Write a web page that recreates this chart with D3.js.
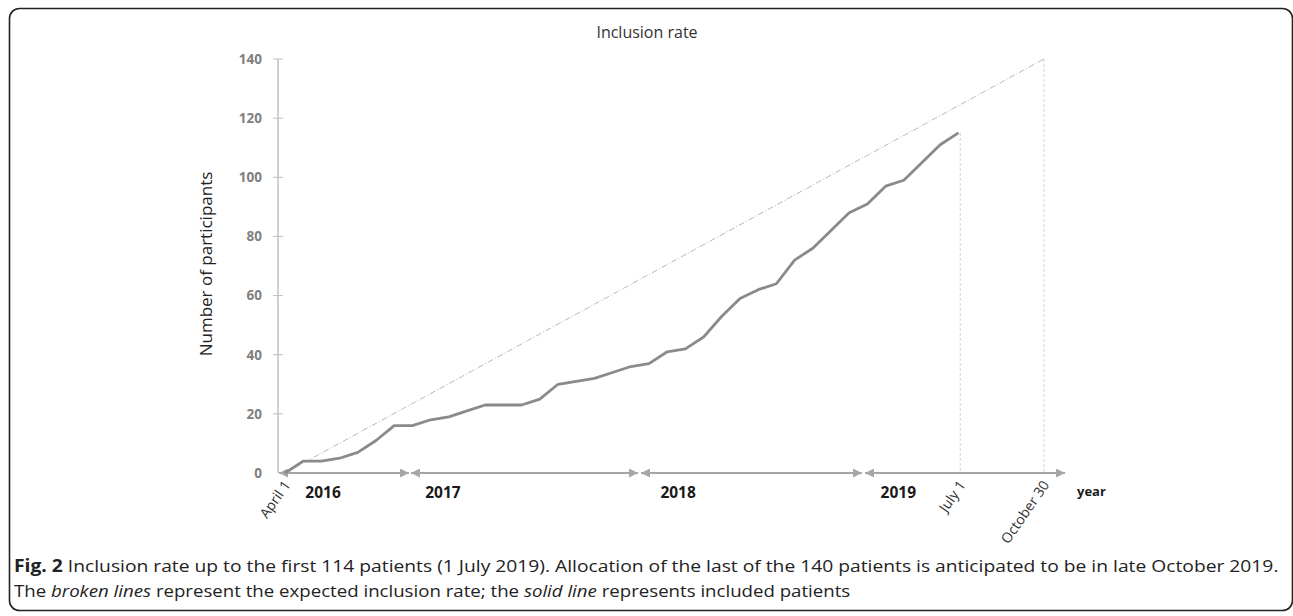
<!DOCTYPE html>
<html>
<head>
<meta charset="utf-8">
<script src="https://cdn.jsdelivr.net/npm/d3@7"></script>
<style>
  body { margin: 0; background: #fff; }
  svg { display: block; font-family: 'Open Sans', sans-serif; }
</style>
</head>
<body>
<div id="chart"></div>
<script>
// monthly cumulative inclusions, one point per step on the x axis
const included = [0, 4, 4, 5, 7, 11, 16, 16, 18, 19, 21, 23, 23, 23, 25, 30, 31, 32, 34, 36,
  37, 41, 42, 46, 53, 59, 62, 64, 72, 76, 82, 88, 91, 97, 99, 105, 111, 115]
const yTicks = [0, 20, 40, 60, 80, 100, 120, 140]

// expected rate: straight from start to the last of 140 patients
const expectedStep = [0, 41.7]
const expectedValue = [0, 140]

// year spans on the time axis (in steps)
const years = ['2016', '2017', '2018', '2019']
const yearFrom = [-0.33, 6.92, 19.56, 31.87]
const yearTo = [6.81, 19.4, 31.7, 42.86]
const yearMid = [2.09, 8.68, 21.6, 33.7]

const dateLabels = ['April 1', 'July 1', 'October 30']
const dateStep = [0, 37.1, 41.7]
const dropValue = [null, 115, 140]

const W = 1293
const H = 616

const svg = d3.select('#chart')
  .append('svg')
  .attr('width', W)
  .attr('height', H)

const x = d3.scaleLinear().domain([0, included.length - 1]).range([285, 958.4])
const y = d3.scaleLinear().domain([0, 140]).range([473, 59])

// frame
svg.append('rect')
  .attr('x', 9.5)
  .attr('y', 8.5)
  .attr('width', 1283)
  .attr('height', 602)
  .attr('rx', 10)
  .style('fill', 'none')
  .style('stroke', '#222')
  .style('stroke-width', 1.6)

svg.append('text')
  .attr('x', 647)
  .attr('y', 38)
  .attr('text-anchor', 'middle')
  .style('font-size', '16px')
  .style('fill', '#333')
  .text('Inclusion rate')

// y axis
const yAxis = d3.axisLeft(y).tickValues(yTicks).tickSize(0).tickPadding(16)
const gy = svg.append('g').attr('transform', 'translate(278,0)').call(yAxis)
gy.select('.domain').remove()
gy.selectAll('text')
  .style('font-family', 'Open Sans, sans-serif')
  .style('font-size', '13.5px')
  .style('font-weight', 'bold')
  .style('fill', '#7f7f7f')
svg.append('line')
  .attr('x1', 278).attr('x2', 278)
  .attr('y1', y(140)).attr('y2', y(0))
  .style('stroke', '#bfbfbf')
  .style('stroke-width', 1.5)
svg.selectAll('.ytick')
  .data(yTicks.filter((d) => d > 0))
  .enter()
  .append('line')
  .attr('class', 'ytick')
  .attr('x1', 273).attr('x2', 283)
  .attr('y1', (d) => y(d)).attr('y2', (d) => y(d))
  .style('stroke', '#bfbfbf')
  .style('stroke-width', 1)

svg.append('text')
  .attr('transform', `translate(212,${264}) rotate(-90)`)
  .attr('text-anchor', 'middle')
  .style('font-size', '17px')
  .style('fill', '#222')
  .text('Number of  participants')

// arrow marker for the year spans
svg.append('defs')
  .append('marker')
  .attr('id', 'head')
  .attr('viewBox', '0 0 10 10')
  .attr('refX', 10)
  .attr('refY', 5)
  .attr('markerWidth', 4.5)
  .attr('markerHeight', 4.5)
  .attr('markerUnits', 'strokeWidth')
  .attr('orient', 'auto-start-reverse')
  .append('path')
  .attr('d', 'M 0 0 L 10 5 L 0 10 z')
  .style('fill', '#a6a6a6')

svg.selectAll('.span')
  .data(years)
  .enter()
  .append('line')
  .attr('class', 'span')
  .attr('x1', (d, i) => x(yearFrom[i]))
  .attr('x2', (d, i) => x(yearTo[i]))
  .attr('y1', y(0)).attr('y2', y(0))
  .attr('marker-start', 'url(#head)')
  .attr('marker-end', 'url(#head)')
  .style('stroke', '#a6a6a6')
  .style('stroke-width', 2)

svg.selectAll('.year')
  .data(years)
  .enter()
  .append('text')
  .attr('class', 'year')
  .attr('x', (d, i) => x(yearMid[i]))
  .attr('y', 498)
  .attr('text-anchor', 'middle')
  .style('font-size', '15.5px')
  .style('font-weight', 'bold')
  .style('fill', '#1a1a1a')
  .text((d) => d)

svg.append('text')
  .attr('x', 1077)
  .attr('y', 496)
  .style('font-size', '13px')
  .style('font-weight', 'bold')
  .style('fill', '#1a1a1a')
  .text('year')

// vertical drop lines
svg.selectAll('.drop')
  .data(dateLabels.filter((d, i) => dropValue[i] !== null))
  .enter()
  .append('line')
  .attr('class', 'drop')
  .attr('x1', (d) => x(dateStep[dateLabels.indexOf(d)]))
  .attr('x2', (d) => x(dateStep[dateLabels.indexOf(d)]))
  .attr('y1', (d) => y(dropValue[dateLabels.indexOf(d)]))
  .attr('y2', y(0))
  .style('stroke', '#d0d0d0')
  .style('stroke-width', 1)
  .style('stroke-dasharray', '3,2')

svg.selectAll('.date')
  .data(dateLabels)
  .enter()
  .append('text')
  .attr('class', 'date')
  .attr('text-anchor', 'end')
  .attr('transform', (d, i) => `translate(${x(dateStep[i]) + 6},${485}) rotate(-55)`)
  .style('font-size', '14px')
  .style('fill', '#333')
  .text((d) => d)

// expected line
const expected = expectedStep.map((s, i) => [s, expectedValue[i]])
svg.append('path')
  .datum(expected)
  .attr('d', d3.line().x((d) => x(d[0])).y((d) => y(d[1])))
  .style('fill', 'none')
  .style('stroke', '#b8b8b8')
  .style('stroke-width', 1)
  .style('stroke-dasharray', '6,2,1,2')

// included patients
svg.append('path')
  .datum(included)
  .attr('d', d3.line().x((d, i) => x(i)).y((d) => y(d)))
  .style('fill', 'none')
  .style('stroke', '#8a8a8a')
  .style('stroke-width', 2.8)
  .style('stroke-linejoin', 'round')

// caption
function fitLine (t, width) {
  const w = t.node().getComputedTextLength()
  t.attr('transform', `translate(14,0) scale(${width / w},1)`)
}

const cap1 = svg.append('text')
  .attr('x', 0)
  .attr('y', 572)
  .style('font-size', '17px')
  .style('fill', '#222')
cap1.append('tspan').style('font-weight', 'bold').text('Fig. 2')
cap1.append('tspan').text(' Inclusion rate up to the first 114 patients (1 July 2019). Allocation of the last of the 140 patients is anticipated to be in late October 2019.')
fitLine(cap1, 1265)

const cap2 = svg.append('text')
  .attr('x', 0)
  .attr('y', 597)
  .style('font-size', '17px')
  .style('fill', '#222')
cap2.append('tspan').text('The ')
cap2.append('tspan').style('font-style', 'italic').text('broken lines')
cap2.append('tspan').text(' represent the expected inclusion rate; the ')
cap2.append('tspan').style('font-style', 'italic').text('solid line')
cap2.append('tspan').text(' represents included patients')
fitLine(cap2, 837)
</script>
</body>
</html>
